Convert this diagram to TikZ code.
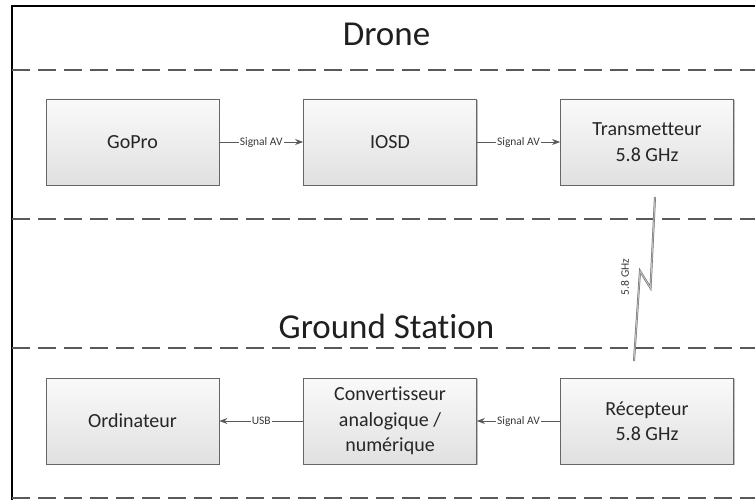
\documentclass[tikz,border=0pt]{standalone}
\usepackage{fontspec}
\setmainfont{Carlito}[Ligatures=NoCommon]
\usetikzlibrary{arrows.meta,shadows}
\begin{document}
\begin{tikzpicture}[x=1pt,y=-1pt,
  box/.style={draw=black!60, line width=0.8pt, top color=black!2, bottom color=black!12,
    minimum width=173pt, minimum height=86pt, inner sep=0pt,
    font=\fontsize{20}{25.5}\selectfont, text=black!85, align=center,
    drop shadow={shadow xshift=1pt,shadow yshift=-1pt,opacity=0.25,fill=black}},
  title/.style={font=\fontsize{35}{40}\selectfont, text=black!88, anchor=base},
  lane/.style={draw=black!65, line width=1.1pt, dash pattern=on 18pt off 8pt},
  border/.style={draw=black, line width=2pt},
  conn/.style={draw=black!65, line width=0.8pt, -{Stealth[length=8pt,width=6pt]}},
  lbl/.style={fill=white, inner sep=1.2pt, font=\fontsize{11.5}{13}\selectfont, text=black!78},
  bolt/.style={draw=black!60, line width=0.5pt, double=black!25, double distance=1pt},
  boltlbl/.style={font=\fontsize{11.5}{13}\selectfont, text=black!78, rotate=90}
]
\useasboundingbox (0,0) rectangle (755,500);

% frame and lanes
\coordinate (tl) at (11.5,6.5);
\coordinate (tr) at (755,6.5);
\coordinate (bl) at (11.5,500);
\draw[border] (tr) -- (tl) -- (bl);
\coordinate (l1a) at (12,70);  \coordinate (l1b) at (755,70);
\coordinate (l2a) at (12,219); \coordinate (l2b) at (755,219);
\coordinate (l3a) at (12,348); \coordinate (l3b) at (755,348);
\coordinate (l4a) at (12,498); \coordinate (l4b) at (755,498);
\draw[lane] (l1a) -- (l1b);
\draw[lane] (l2a) -- (l2b);
\draw[lane] (l3a) -- (l3b);
\draw[lane] (l4a) -- (l4b);

% titles
\node[title] (drone) at (386.5,46) {Drone};
\node[title] (ground) at (386.5,338) {Ground Station};

% drone row
\node[box] (gopro) at (132.5,142) {GoPro};
\node[box] (iosd) at (390,142) {IOSD};
\node[box] (tx) at (647,142) {Transmetteur\\5.8 GHz};

% ground row
\node[box] (pc) at (132.5,421) {Ordinateur};
\node[box] (conv) at (390,421) {Convertisseur\\analogique /\\numérique};
\node[box] (rx) at (647,421) {Récepteur\\5.8 GHz};

% connectors
\draw[conn] (gopro) -- node[lbl] (s1) {Signal AV} (iosd);
\draw[conn] (iosd) -- node[lbl] (s2) {Signal AV} (tx);
\draw[conn] (rx) -- node[lbl] (s3) {Signal AV} (conv);
\draw[conn] (conv) -- node[lbl] (s4) {USB} (pc);

% radio link
\coordinate (bA) at (655,197);
\coordinate (bB) at (650.5,288);
\coordinate (bC) at (640,271);
\coordinate (bD) at (634,361);
\draw[bolt] (bA) -- (bB) -- (bC) -- (bD);
\node[boltlbl] (freq) at (625,277) {5.8 GHz};
\end{tikzpicture}
\end{document}
